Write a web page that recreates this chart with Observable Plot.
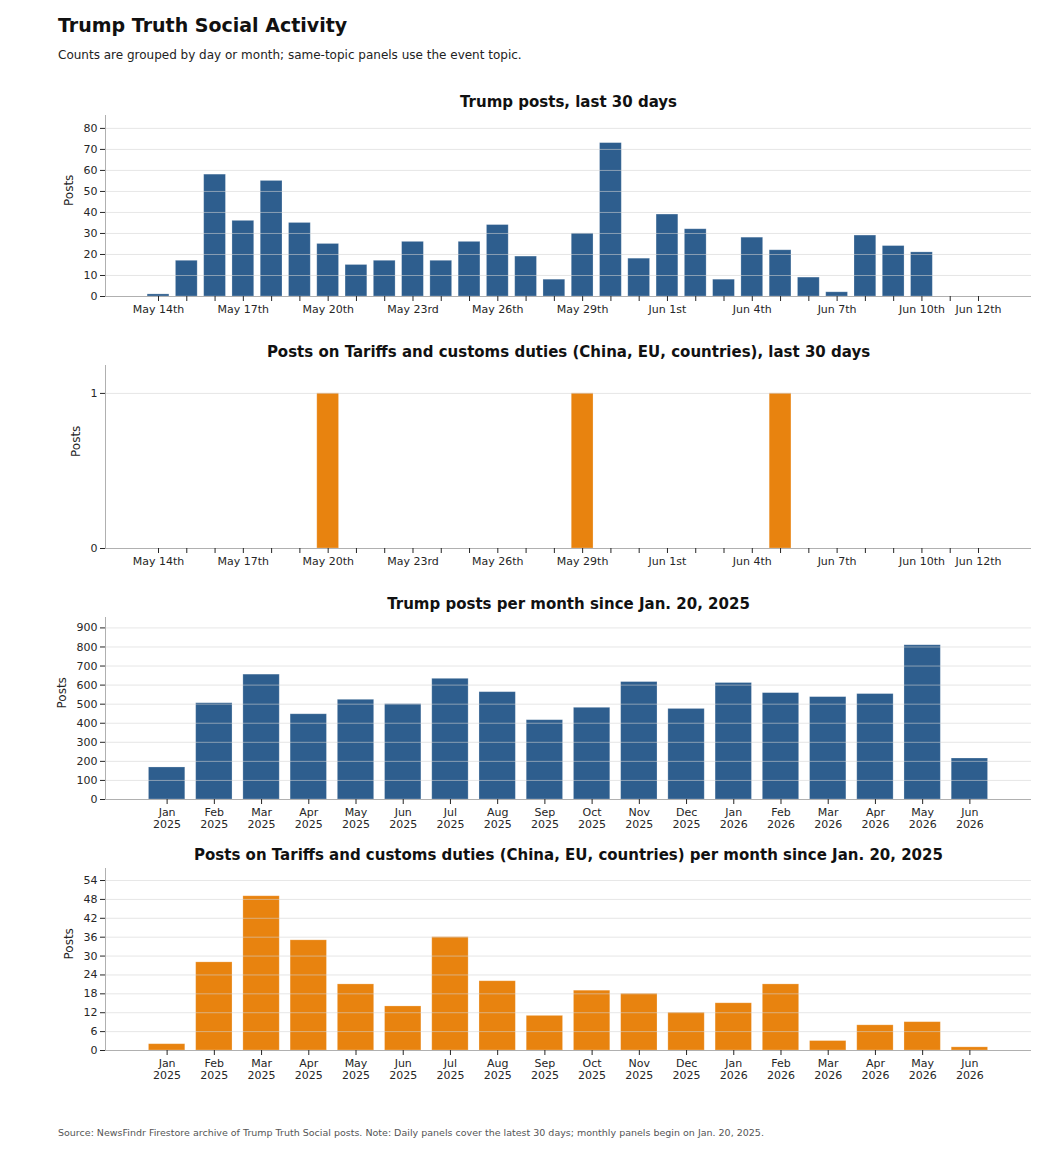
<!DOCTYPE html>
<html><head><meta charset="utf-8">
<script src="https://cdn.jsdelivr.net/npm/d3@7"></script>
<script src="https://cdn.jsdelivr.net/npm/@observablehq/plot@0.6"></script>
<style>
body{margin:0;background:#fff;font-family:"DejaVu Sans",sans-serif;}
#page{position:relative;width:1056px;height:1152px;overflow:hidden;}
#title{position:absolute;left:58px;top:14px;font-size:19px;font-weight:bold;color:#111;white-space:nowrap;}
#subtitle{position:absolute;left:58px;top:48px;font-size:12px;color:#222;white-space:nowrap;}
#footer{position:absolute;left:58px;top:1127px;font-size:9.5px;color:#555;white-space:nowrap;}
.panel{position:absolute;left:0;}
</style>
</head><body>
<div id="page">
  <div id="title">Trump Truth Social Activity</div>
  <div id="subtitle">Counts are grouped by day or month; same-topic panels use the event topic.</div>
  <div id="p1" class="panel" style="top:75px"></div>
  <div id="p2" class="panel" style="top:326px"></div>
  <div id="p3" class="panel" style="top:578px"></div>
  <div id="p4" class="panel" style="top:829px"></div>
  <div id="footer">Source: NewsFindr Firestore archive of Trump Truth Social posts. Note: Daily panels cover the latest 30 days; monthly panels begin on Jan. 20, 2025.</div>
</div>
<script>
// ---- Data ----
const days = ["2026-05-14","2026-05-15","2026-05-16","2026-05-17","2026-05-18","2026-05-19","2026-05-20","2026-05-21","2026-05-22","2026-05-23",
  "2026-05-24","2026-05-25","2026-05-26","2026-05-27","2026-05-28","2026-05-29","2026-05-30","2026-05-31","2026-06-01","2026-06-02",
  "2026-06-03","2026-06-04","2026-06-05","2026-06-06","2026-06-07","2026-06-08","2026-06-09","2026-06-10","2026-06-11","2026-06-12"];
const dailyPosts = [1,17,58,36,55,35,25,15,17,26,17,26,34,19,8,30,73,18,39,32,8,28,22,9,2,29,24,21,0,0];
const dailyTariffPosts = [0,0,0,0,0,0,1,0,0,0,0,0,0,0,0,1,0,0,0,0,0,0,1,0,0,0,0,0,0,0];
const labeledDays = ["2026-05-14","2026-05-17","2026-05-20","2026-05-23","2026-05-26","2026-05-29","2026-06-01","2026-06-04","2026-06-07","2026-06-10","2026-06-12"];
const labeledDayText = ["May 14th","May 17th","May 20th","May 23rd","May 26th","May 29th","Jun 1st","Jun 4th","Jun 7th","Jun 10th","Jun 12th"];

const months = ["Jan 2025","Feb 2025","Mar 2025","Apr 2025","May 2025","Jun 2025","Jul 2025","Aug 2025","Sep 2025","Oct 2025","Nov 2025","Dec 2025",
  "Jan 2026","Feb 2026","Mar 2026","Apr 2026","May 2026","Jun 2026"];
const monthlyPosts = [168,505,655,447,523,500,633,563,416,481,616,475,611,558,537,553,809,215];
const monthlyTariffPosts = [2,28,49,35,21,14,36,22,11,19,18,12,15,21,3,8,9,1];

const ticksDaily = [0,10,20,30,40,50,60,70,80];
const ticksDailyTariff = [0,1];
const ticksMonthly = [0,100,200,300,400,500,600,700,800,900];
const ticksMonthlyTariff = [0,6,12,18,24,30,36,42,48,54];

const titles = [
  "Trump posts, last 30 days",
  "Posts on Tariffs and customs duties (China, EU, countries), last 30 days",
  "Trump posts per month since Jan. 20, 2025",
  "Posts on Tariffs and customs duties (China, EU, countries) per month since Jan. 20, 2025"
];

const BLUE = "#2e5e8e";
const ORANGE = "#e8830f";

const dayLabelMap = new Map(labeledDays.map((d, i) => [d, labeledDayText[i]]));
const dayFmt = d => dayLabelMap.get(d) ?? "";
const monthFmt = d => d.replace(" ", "\n");

function panel({el, keys, values, fmt, yTicks, color, title, height, marginTop, marginBottom, paddingOuter, labelX}) {
  const data = keys.map((k, i) => ({k, v: values[i]}));
  const yMax = d3.max(values) * 1.18;
  const chart = Plot.plot({
    width: 1056, height, marginLeft: 105, marginRight: 25, marginTop, marginBottom,
    style: {fontFamily: "DejaVu Sans, sans-serif", fontSize: "11px", color: "#262626", background: "white", overflow: "visible"},
    x: {type: "band", domain: keys, paddingInner: 0.23, paddingOuter, round: false, label: null},
    y: {domain: [0, yMax], label: null},
    marks: [
      Plot.barY(data, {x: "k", y: "v", fill: color, stroke: "white", strokeOpacity: 0.3, strokeWidth: 0.8}),
      Plot.gridY(yTicks, {stroke: "#d2d2d2", strokeOpacity: 0.56}),
      Plot.ruleY([0], {stroke: "#b0b0b0"}),
      Plot.frame({anchor: "left", stroke: "#b0b0b0"}),
      Plot.axisY(yTicks, {tickSize: 5, tickPadding: 3, label: null, tickFormat: d3.format("d")}),
      Plot.axisX({tickSize: 5, tickPadding: 3, tickFormat: fmt, label: null, lineHeight: 1.1}),
      Plot.text(["Posts"], {frameAnchor: "left", dx: labelX - 105, rotate: -90, fontSize: 12, fill: "#262626"}),
      Plot.text([title], {frameAnchor: "top", dy: -9, lineAnchor: "bottom", fontWeight: "bold", fontSize: 15, fill: "#111"})
    ]
  });
  document.getElementById(el).appendChild(chart);
}

panel({el: "p1", keys: days, values: dailyPosts, fmt: dayFmt, yTicks: ticksDaily, color: BLUE, title: titles[0],
  height: 251, marginTop: 40, marginBottom: 30, paddingOuter: 1.49, labelX: 69});
panel({el: "p2", keys: days, values: dailyTariffPosts, fmt: dayFmt, yTicks: ticksDailyTariff, color: ORANGE, title: titles[1],
  height: 252, marginTop: 39, marginBottom: 30, paddingOuter: 1.49, labelX: 76});
panel({el: "p3", keys: months, values: monthlyPosts, fmt: monthFmt, yTicks: ticksMonthly, color: BLUE, title: titles[2],
  height: 266, marginTop: 39, marginBottom: 45, paddingOuter: 0.92, labelX: 62});
panel({el: "p4", keys: months, values: monthlyTariffPosts, fmt: monthFmt, yTicks: ticksMonthlyTariff, color: ORANGE, title: titles[3],
  height: 266, marginTop: 39, marginBottom: 45, paddingOuter: 0.92, labelX: 69});
</script>
</body></html>
